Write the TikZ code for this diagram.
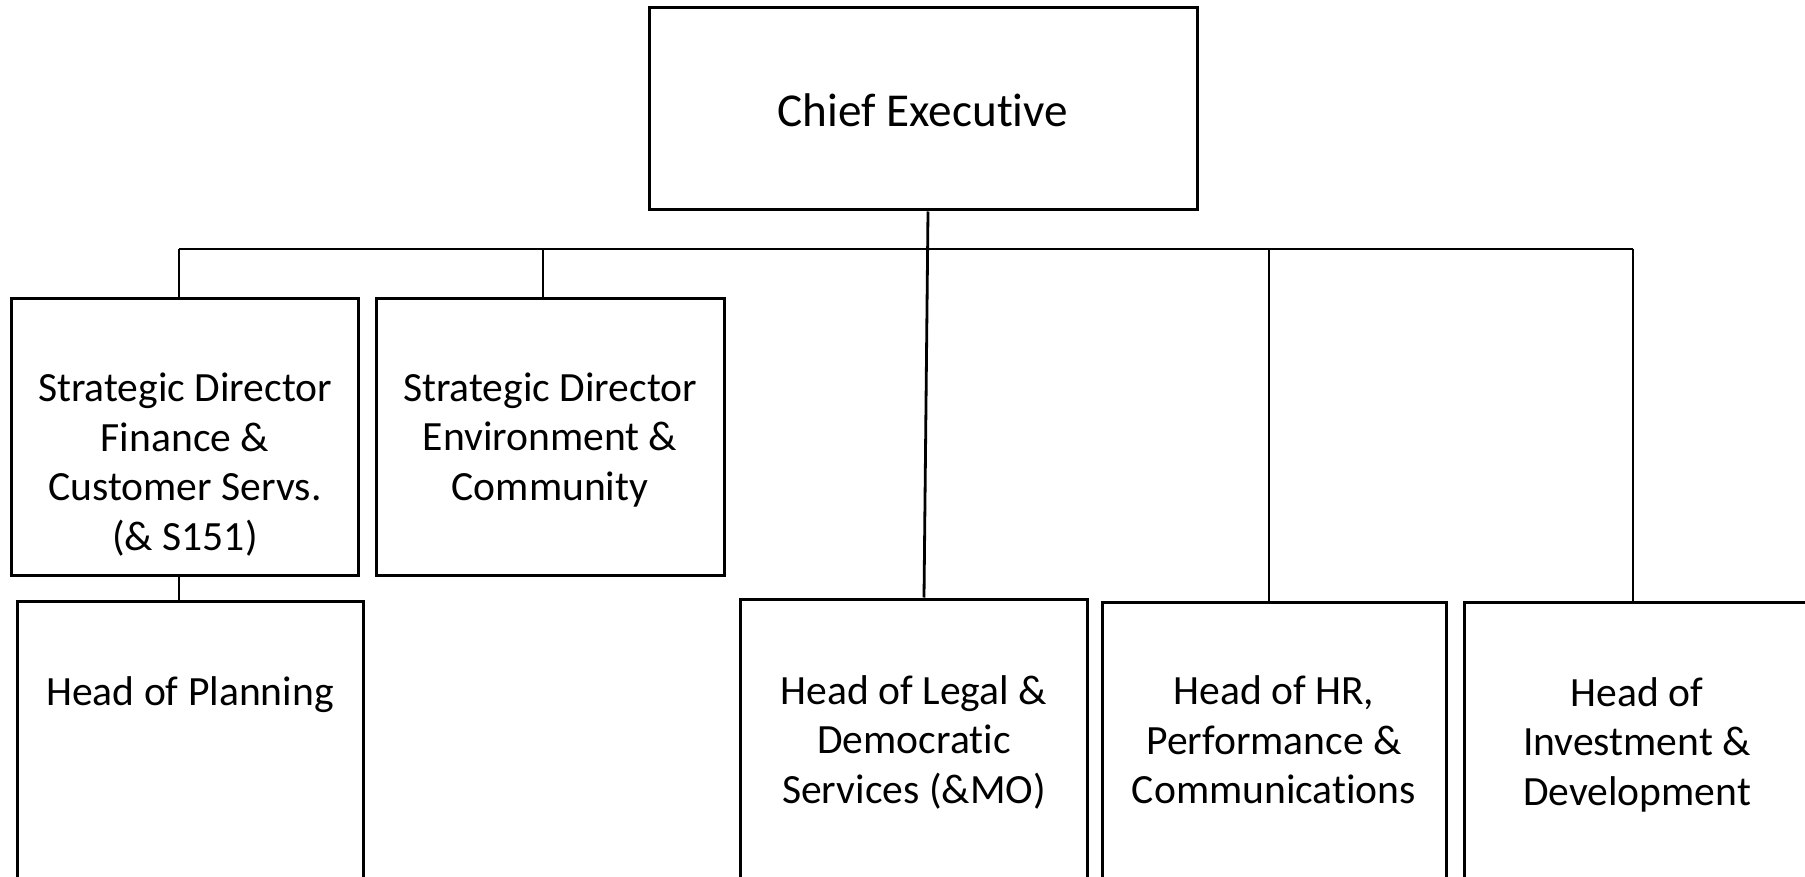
\documentclass[tikz,border=0pt]{standalone}
\usepackage{fontspec}
\setmainfont{Carlito}[Ligatures={NoCommon}]
\begin{document}
\begin{tikzpicture}[x=0.5pt,y=-0.5pt,
  box/.style={draw=black, line width=1.5pt, fill=white, inner sep=0pt},
  conn/.style={draw=black, line width=1.4pt},
  lbl/.style={align=center, font=\fontsize{20.8pt}{24.75pt}\selectfont, inner sep=0pt},
  celbl/.style={align=center, font=\fontsize{23.6pt}{27pt}\selectfont, inner sep=0pt}]
\useasboundingbox (0,0) rectangle (1805,877);
\clip (0,0) rectangle (1805,877);
% boxes
\node[box, minimum width=274pt, minimum height=101pt] (ce) at (923,109) {};
\node[box, minimum width=173.25pt, minimum height=138pt] (sdf) at (184.75,437) {};
\node[box, minimum width=174pt, minimum height=138pt] (sde) at (550,437) {};
\node[box, minimum width=173pt, minimum height=149.5pt] (hop) at (190,750.5) {};
\node[box, minimum width=173.5pt, minimum height=150.5pt] (leg) at (913.5,749.5) {};
\node[box, minimum width=172pt, minimum height=149pt] (hr) at (1274,751) {};
\node[box, minimum width=173pt, minimum height=149pt] (inv) at (1637,751) {};
% texts
\node[celbl] (cet) at (923,110.5) {Chief Executive};
\node[lbl] (sdft) at (185,464.5) {Strategic Director\\Finance \&\\Customer Servs.\\(\& S151)};
\node[lbl] (sdet) at (550,440) {Strategic Director\\Environment \&\\Community};
\node[lbl] (hopt) at (190,695) {Head of Planning};
\node[lbl] (legt) at (914,742) {Head of Legal \&\\Democratic\\Services (\&MO)};
\node[lbl] (hrt) at (1274,740) {Head of HR,\\Performance \&\\Communications};
\node[lbl] (invt) at (1637,744.5) {Head of\\Investment \&\\Development};
% connectors
\coordinate (busL) at (179,249);
\coordinate (busE) at (543,249);
\coordinate (busH) at (1269,249);
\coordinate (busR) at (1633,249);
\coordinate (stemT) at (928,210);
\coordinate (stemB) at (924,599);
\draw[conn] (busL) -- (busR);
\draw[conn] (busL) -- (busL |- sdf.north);
\draw[conn] (busE) -- (busE |- sde.north);
\draw[conn] (busH) -- (busH |- hr.north);
\draw[conn] (busR) -- (busR |- inv.north);
\draw[conn] (stemT |- ce.south) -- (stemB |- leg.north);
\draw[conn] (busL |- sdf.south) -- (busL |- hop.north);
\end{tikzpicture}
\end{document}
